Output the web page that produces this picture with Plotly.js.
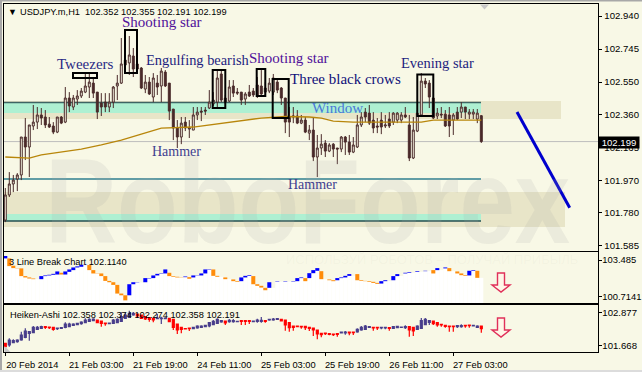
<!DOCTYPE html>
<html><head><meta charset="utf-8">
<script src="https://cdn.plot.ly/plotly-3.0.1.min.js"></script>
<style>html,body{margin:0;padding:0;background:#f8f8e6}#c{width:642px;height:372px}</style>
</head><body><div id="c"></div>
<script>
var WIDTH=642, HEIGHT=372;
var barIndex=[];for(var n=0;n<120;n++)barIndex.push(n);

var priceOpen=[101.736,101.884,101.949,101.978,102.002,102.226,102.167,102.291,102.314,102.356,102.344,102.302,102.291,102.255,102.344,102.314,102.456,102.403,102.450,102.468,
102.491,102.521,102.544,102.491,102.426,102.432,102.403,102.432,102.527,102.544,102.651,102.663,102.704,102.657,102.633,102.509,102.550,102.462,102.544,102.527,
102.609,102.544,102.391,102.279,102.226,102.314,102.273,102.267,102.356,102.379,102.385,102.397,102.421,102.432,102.598,102.456,102.438,102.527,102.491,102.491,
102.450,102.491,102.497,102.533,102.527,102.491,102.497,102.491,102.550,102.515,102.456,102.344,102.344,102.350,102.308,102.326,102.249,102.267,102.108,102.161,
102.190,102.143,102.184,102.161,102.155,102.226,102.196,102.137,102.167,102.297,102.373,102.367,102.326,102.291,102.326,102.291,102.332,102.314,102.326,102.326,
102.356,102.297,102.102,102.261,102.356,102.556,102.544,102.456,102.350,102.361,102.361,102.356,102.326,102.373,102.373,102.403,102.361,102.361,102.332,102.352];
var priceHigh=[101.925,102.019,102.002,102.013,102.226,102.338,102.297,102.415,102.403,102.397,102.385,102.344,102.314,102.344,102.350,102.521,102.491,102.474,102.503,102.515,
102.603,102.603,102.574,102.491,102.485,102.485,102.485,102.527,102.592,102.810,102.710,102.822,102.751,102.668,102.639,102.592,102.580,102.603,102.592,102.633,
102.621,102.544,102.391,102.326,102.344,102.344,102.326,102.403,102.403,102.403,102.403,102.503,102.491,102.621,102.621,102.474,102.562,102.562,102.515,102.491,
102.491,102.533,102.515,102.580,102.621,102.550,102.574,102.598,102.562,102.521,102.456,102.403,102.403,102.385,102.356,102.344,102.297,102.344,102.238,102.243,
102.208,102.190,102.190,102.161,102.232,102.232,102.238,102.226,102.356,102.373,102.397,102.415,102.373,102.338,102.373,102.356,102.373,102.373,102.373,102.373,
102.403,102.356,102.344,102.385,102.603,102.574,102.562,102.456,102.397,102.403,102.385,102.403,102.367,102.403,102.432,102.403,102.391,102.391,102.391,102.355];
var priceLow=[101.724,101.872,101.901,101.907,101.972,102.090,101.990,102.267,102.273,102.297,102.279,102.279,102.243,102.249,102.302,102.308,102.373,102.385,102.415,102.456,
102.485,102.456,102.456,102.332,102.350,102.373,102.373,102.397,102.444,102.539,102.621,102.592,102.580,102.609,102.509,102.485,102.474,102.432,102.474,102.432,
102.521,102.326,102.208,102.161,102.184,102.261,102.220,102.267,102.326,102.320,102.356,102.391,102.409,102.397,102.432,102.421,102.432,102.462,102.474,102.415,
102.415,102.462,102.462,102.456,102.462,102.474,102.485,102.474,102.485,102.415,102.249,102.226,102.308,102.302,102.302,102.249,102.208,102.084,101.990,102.120,
102.108,102.137,102.108,102.066,102.137,102.120,102.120,102.131,102.161,102.285,102.314,102.297,102.249,102.249,102.243,102.279,102.279,102.297,102.308,102.308,
102.338,102.084,102.096,102.255,102.344,102.515,102.397,102.332,102.332,102.338,102.285,102.226,102.238,102.326,102.338,102.332,102.332,102.332,102.308,102.191];
var priceClose=[101.884,101.949,101.972,102.002,102.226,102.167,102.297,102.314,102.356,102.338,102.297,102.285,102.255,102.344,102.308,102.456,102.409,102.456,102.468,102.497,
102.527,102.550,102.485,102.373,102.403,102.403,102.432,102.521,102.544,102.657,102.680,102.710,102.627,102.627,102.515,102.550,102.480,102.574,102.521,102.615,
102.527,102.379,102.279,102.226,102.308,102.279,102.279,102.356,102.373,102.373,102.379,102.432,102.444,102.574,102.444,102.432,102.521,102.485,102.485,102.444,
102.480,102.468,102.474,102.474,102.480,102.515,102.544,102.574,102.503,102.456,102.314,102.314,102.350,102.308,102.326,102.255,102.267,102.108,102.161,102.184,
102.143,102.179,102.155,102.155,102.226,102.196,102.137,102.179,102.297,102.344,102.344,102.308,102.279,102.285,102.285,102.297,102.291,102.367,102.367,102.356,
102.344,102.102,102.267,102.367,102.556,102.539,102.462,102.338,102.367,102.356,102.291,102.291,102.356,102.332,102.403,102.373,102.373,102.373,102.367,102.199];

var maBars=[0,6,9,14,19,24,29,34,39,47,57,64,70,76,79,82,87,104,107,119];
var maValues=[102.108,102.102,102.120,102.137,102.155,102.179,102.208,102.243,102.279,102.285,102.314,102.338,102.347,102.344,102.338,102.320,102.314,102.314,102.326,102.326];

// 3 Line Break blocks: upper edge, lower edge, direction (1 rising, -1 falling, 0 no block)
var lbUpper=[103.79,103.61,103.06,102.88,102.86,102.28,102.18,102.10,null,102.28,102.33,102.38,102.45,102.63,102.53,102.63,102.78,102.93,103.01,103.13,
103.13,103.11,102.73,102.50,102.48,102.28,101.92,101.82,101.62,100.97,100.84,101.67,101.82,101.82,null,102.13,102.13,102.33,102.45,102.48,
102.78,102.53,102.28,102.23,102.20,102.25,102.20,102.33,102.35,102.48,102.78,102.78,102.78,102.30,null,102.18,null,102.03,101.90,102.18,
102.30,102.35,102.28,101.67,101.55,101.40,101.82,null,101.90,null,101.90,null,101.90,102.13,102.18,102.13,102.50,102.73,102.88,102.65,
null,102.03,101.97,102.13,102.18,102.30,102.43,null,102.43,101.97,101.92,101.90,101.85,101.77,101.90,101.97,null,102.28,102.43,null,
102.53,102.58,null,102.65,null,102.68,null,102.73,102.88,null,102.93,102.88,null,102.63,102.48,102.35,102.68,102.73,102.68,null];
var lbLower=[103.61,103.03,102.88,102.86,102.28,102.18,102.10,102.05,null,102.05,102.28,102.33,102.38,102.40,102.40,102.40,102.60,102.73,102.93,102.98,
103.11,102.73,102.48,102.48,102.28,101.92,101.82,101.62,100.97,100.84,100.46,100.84,101.67,101.80,null,101.82,102.10,102.13,102.33,102.45,
102.48,102.28,102.23,102.18,102.18,102.20,102.08,102.18,102.33,102.33,102.48,102.75,102.30,102.23,null,102.05,null,101.90,101.85,101.90,
102.18,102.30,101.67,101.55,101.42,101.22,101.40,null,101.87,null,101.87,null,101.87,101.90,102.13,101.90,102.13,102.50,102.68,102.05,
null,101.97,101.90,101.97,102.13,102.18,102.30,null,101.97,101.92,101.90,101.85,101.77,101.70,101.72,101.90,null,101.97,102.28,null,
102.48,102.53,null,102.60,null,102.65,null,102.48,102.73,null,102.86,102.65,null,102.48,102.35,102.30,102.33,102.68,102.15,null];
var lbDir=[1,-1,-1,-1,-1,-1,-1,-1,0,1,1,1,1,1,-1,1,1,1,1,1,
1,-1,-1,-1,-1,-1,-1,-1,-1,-1,-1,1,1,1,0,1,1,1,1,1,
1,-1,-1,-1,-1,1,-1,1,1,1,1,1,-1,-1,0,-1,0,-1,-1,1,
1,1,-1,-1,-1,-1,1,0,1,0,1,0,1,1,1,-1,1,1,1,-1,
0,-1,-1,1,1,1,1,0,-1,-1,-1,-1,-1,-1,1,1,0,1,1,0,
1,1,0,1,0,1,0,-1,1,0,1,-1,0,-1,-1,-1,1,1,-1,0];

var haOpen=[101.754,101.693,101.779,101.815,101.876,101.974,102.121,102.145,102.267,102.304,102.365,102.353,102.341,102.292,102.304,102.341,102.365,102.414,102.438,102.475,
102.512,102.560,102.585,102.609,102.573,102.499,102.475,102.487,102.512,102.560,102.670,102.707,102.792,102.829,102.792,102.731,102.695,102.670,102.658,102.658,
102.658,102.670,102.634,102.463,102.341,102.292,102.316,102.292,102.316,102.341,102.365,102.389,102.438,102.487,102.536,102.573,102.548,102.548,102.548,102.585,
102.585,102.585,102.548,102.560,102.560,102.585,102.609,102.609,102.634,102.634,102.609,102.512,102.389,102.389,102.377,102.377,102.341,102.316,102.243,102.121,
102.133,102.108,102.096,102.108,102.133,102.133,102.170,102.170,102.170,102.243,102.267,102.341,102.341,102.341,102.316,102.316,102.328,102.304,102.328,102.341,
102.328,102.365,102.341,102.267,102.304,102.438,102.524,102.573,102.512,102.451,102.414,102.389,102.389,102.365,102.365,102.414,102.426,102.389,102.341,102.389];
var haHigh=[101.754,101.937,101.901,101.901,102.182,102.304,102.182,102.389,102.389,102.402,102.389,102.353,102.341,102.316,102.328,102.524,102.512,102.487,102.512,102.560,
102.670,102.670,102.670,102.609,102.573,102.499,102.512,102.646,102.670,102.890,102.854,102.951,102.902,102.829,102.792,102.731,102.695,102.670,102.829,102.731,
102.707,102.670,102.634,102.463,102.341,102.292,102.316,102.365,102.414,102.414,102.438,102.536,102.609,102.670,102.609,102.573,102.646,102.646,102.560,102.585,
102.585,102.585,102.585,102.658,102.719,102.585,102.658,102.683,102.670,102.634,102.609,102.512,102.389,102.389,102.377,102.377,102.341,102.316,102.243,102.121,
102.133,102.108,102.096,102.108,102.182,102.206,102.170,102.170,102.304,102.389,102.426,102.365,102.341,102.341,102.341,102.341,102.328,102.389,102.402,102.353,
102.414,102.365,102.341,102.414,102.683,102.683,102.609,102.573,102.512,102.451,102.414,102.389,102.389,102.414,102.451,102.414,102.426,102.414,102.414,102.389];
var haLow=[101.632,101.632,101.754,101.779,101.852,101.937,101.852,102.121,102.243,102.292,102.280,102.280,102.218,102.243,102.280,102.304,102.341,102.389,102.414,102.438,
102.487,102.536,102.560,102.512,102.365,102.402,102.475,102.463,102.487,102.536,102.646,102.683,102.768,102.695,102.646,102.609,102.548,102.524,102.634,102.463,
102.634,102.524,102.243,102.096,102.121,102.280,102.206,102.267,102.292,102.316,102.341,102.341,102.414,102.463,102.512,102.426,102.512,102.512,102.548,102.426,
102.426,102.463,102.536,102.512,102.512,102.512,102.585,102.585,102.621,102.573,102.218,102.182,102.218,102.353,102.292,102.243,102.206,102.023,101.901,101.974,
102.060,102.047,102.023,101.999,102.121,102.072,102.047,102.060,102.145,102.218,102.243,102.341,102.218,102.243,102.267,102.267,102.218,102.292,102.316,102.341,
102.280,101.999,102.023,102.243,102.292,102.414,102.426,102.426,102.365,102.365,102.328,102.182,102.182,102.316,102.328,102.328,102.328,102.389,102.316,102.145];
var haClose=[101.632,101.876,101.852,101.876,102.060,102.206,102.182,102.341,102.341,102.365,102.341,102.328,102.267,102.316,102.328,102.463,102.463,102.463,102.487,102.536,
102.609,102.634,102.646,102.512,102.487,102.475,102.499,102.609,102.634,102.731,102.792,102.854,102.854,102.756,102.670,102.646,102.634,102.609,102.683,102.683,
102.683,102.548,102.341,102.243,102.267,102.280,102.292,102.341,102.389,102.389,102.414,102.512,102.560,102.634,102.585,102.499,102.597,102.585,102.560,102.560,
102.560,102.560,102.573,102.609,102.597,102.560,102.634,102.646,102.658,102.573,102.426,102.328,102.341,102.365,102.353,102.328,102.304,102.243,102.096,102.072,
102.108,102.084,102.072,102.084,102.170,102.170,102.133,102.145,102.267,102.341,102.389,102.365,102.316,102.316,102.341,102.341,102.304,102.365,102.377,102.353,
102.365,102.243,102.206,102.389,102.585,102.634,102.585,102.475,102.426,102.426,102.377,102.365,102.365,102.402,102.402,102.389,102.402,102.414,102.389,102.292];

var priceTicks=[102.94,102.745,102.55,102.36,102.165,101.97,101.78,101.585];
var priceTickLabels=['102.940','102.745','102.550','102.360','102.165','101.970','101.780','101.585'];
var lbTicks=[103.485,100.7141], lbTickLabels=['103.485','100.7141'];
var haTicks=[102.877,101.668], haTickLabels=['102.877','101.668'];
var timeTickBars=[0,16,32,48,64,80,96,112];
var timeTickLabels=['20 Feb 2014','21 Feb 03:00','21 Feb 19:00','24 Feb 11:00','25 Feb 03:00','25 Feb 19:00','26 Feb 11:00','27 Feb 03:00'];
var lastPrice=102.199;

var patternLabels=['Shooting star','Tweezers','Engulfing bearish','Shooting star','Three black crows','Evening star','Window','Hammer','Hammer'];

var CREAM='#f8f8e6', INK='#000000', FONT='"Liberation Sans", Arial, sans-serif', SERIF='"Liberation Serif", "Times New Roman", serif';
var FS=9.6;
function px(x){return x/WIDTH;} function py(y){return 1-y/HEIGHT;}
function bx(x){return (x-5.3)/4;} function pr(y){return 103.0344-0.0059*y;}

var xRange=[bx(4),bx(598)];
var lbFloor=100.26, lbTopEdge=104.09;

var whiteH=[],last=lbLower[0];
for(var i=0;i<120;i++){ if(lbLower[i]!==null) last=lbLower[i]; whiteH.push(last-lbFloor); }
var lbH=[],lbBase=[],lbCol=[];
for(var j=0;j<120;j++){ 
  lbH.push(lbUpper[j]===null?0:lbUpper[j]-lbLower[j]); lbBase.push(lbLower[j]===null?lbFloor:lbLower[j]);
  lbCol.push(lbDir[j]>0?'#0000ff':'#ff8c0a');
}

var traces=[
 {type:'candlestick',x:barIndex,open:priceOpen,high:priceHigh,low:priceLow,close:priceClose,xaxis:'x',yaxis:'y',
  increasing:{line:{color:'#4a2a2a',width:1},fillcolor:CREAM},decreasing:{line:{color:'#4a2a2a',width:1},fillcolor:'#4a2a2a'},whiskerwidth:0,hoverinfo:'skip',showlegend:false},
 {type:'scatter',mode:'lines',x:maBars,y:maValues,xaxis:'x',yaxis:'y',line:{color:'#b8860b',width:1.3},hoverinfo:'skip',showlegend:false},
 {type:'bar',x:barIndex,y:whiteH,base:lbFloor,width:1,xaxis:'x2',yaxis:'y2',marker:{color:'#ffffff',line:{width:0}},hoverinfo:'skip',showlegend:false},
 {type:'bar',x:barIndex,y:lbH,base:lbBase,width:1,xaxis:'x2',yaxis:'y2',marker:{color:lbCol,line:{width:0}},hoverinfo:'skip',showlegend:false},
 {type:'candlestick',x:barIndex,open:haOpen,high:haHigh,low:haLow,close:haClose,xaxis:'x3',yaxis:'y3',
  increasing:{line:{color:'#483d8b',width:1.2},fillcolor:'#483d8b'},decreasing:{line:{color:'#ff0000',width:1.2},fillcolor:'#ff0000'},whiskerwidth:0,hoverinfo:'skip',showlegend:false}
];

function zone(x0,x1,y0,y1,c){return {type:'rect',xref:'x',yref:'y',x0:x0,x1:x1,y0:y0,y1:y1,fillcolor:c,line:{width:0},layer:'below'};}
function hline(x0,x1,y,c,w){return {type:'line',xref:'x',yref:'y',x0:x0,x1:x1,y0:y,y1:y,line:{color:c,width:w},layer:'below'};}
function box(xa,xb,ya,yb){return {type:'rect',xref:'x',yref:'y',x0:bx(xa),x1:bx(xb),y0:pr(ya),y1:pr(yb),fillcolor:'rgba(0,0,0,0)',line:{color:'#000',width:2},layer:'above'};}
function arrow(top){
  var t=top,b=top+19,h=top+12;
  var d='M'+px(497.5)+','+py(t)+' L'+px(504.5)+','+py(t)+' L'+px(504.5)+','+py(h)+' L'+px(510)+','+py(h)+' L'+px(501)+','+py(b)+' L'+px(492)+','+py(h)+' L'+px(497.5)+','+py(h)+' Z';
  return {type:'path',xref:'paper',yref:'paper',path:d,fillcolor:'#fff6e8',line:{color:'#e0305a',width:1.4},layer:'above'};
}
function tri(xa,ya,xb,yb,xc,yc,c){return {type:'path',xref:'paper',yref:'paper',path:'M'+px(xa)+','+py(ya)+' L'+px(xb)+','+py(yb)+' L'+px(xc)+','+py(yc)+' Z',fillcolor:c,line:{width:0},layer:'above'};}

var shapes=[
 zone(xRange[0],bx(561),pr(101),pr(119),'#e8e5c8'),
 zone(xRange[0],bx(565),pr(192),pr(227),'#e8e5c8'),
 zone(xRange[0],bx(481),pr(102.5),pr(113),'#aef0d2'),
 zone(bx(6),bx(481),pr(214),pr(221),'#aef0d2'),
 hline(xRange[0],bx(481),pr(102.5),'#3e6464',1.3),
 hline(xRange[0],bx(481),pr(179),'#2f7f8f',1.3),
 hline(xRange[0],bx(481),pr(221),'#244f50',1.3),
 hline(xRange[0],xRange[1],lastPrice,'#bdbdbd',1),
 box(73,97,73,78), box(125,137,30,73), box(212.7,225.3,70,108), box(256.7,265.3,69,96), box(272.7,288.7,79,118), box(417.3,433.3,74.5,116),
 {type:'line',xref:'x',yref:'y',x0:bx(517),y0:pr(112),x1:bx(569.7),y1:pr(207.7),line:{color:'#0000cd',width:3},layer:'above'},
 arrow(273),arrow(318),
 tri(480,4.5,489,4.5,484.5,9.5,'#c8c8c8'),
 tri(4.5,346,4.5,352,10.5,352,'#c8c8c8'),
 {type:'rect',xref:'paper',yref:'paper',x0:0,x1:px(2),y0:0,y1:1,fillcolor:'#a8a8a8',line:{width:0},layer:'above'},
 {type:'rect',xref:'paper',yref:'paper',x0:0,x1:1,y0:py(1.5),y1:1,fillcolor:'#a8a8a8',line:{width:0},layer:'above'},
 {type:'rect',xref:'paper',yref:'paper',x0:0,x1:1,y0:0,y1:py(370),fillcolor:'#dcdcdc',line:{width:0},layer:'above'}
];

function note(text,cx,cy,color,size){return {text:text,xref:'paper',yref:'paper',x:px(cx),y:py(cy),xanchor:'center',yanchor:'middle',showarrow:false,font:{family:SERIF,size:size||15,color:color}};}
function label(text,x,y,size){return {text:text,xref:'paper',yref:'paper',x:px(x),y:py(y),xanchor:'left',yanchor:'middle',showarrow:false,font:{family:FONT,size:size||9.25,color:INK}};}

var annotations=[
 {text:'RoboForex',xref:'paper',yref:'paper',x:px(307.5),y:py(201),xanchor:'center',yanchor:'middle',showarrow:false,
  font:{family:'"Liberation Sans",sans-serif',size:120,color:'rgba(165,170,165,0.16)',weight:700}},
 {text:'ИСПОЛЬЗУЙ РОБОТОВ – ПОЛУЧАЙ ПРИБЫЛЬ',xref:'paper',yref:'paper',x:px(432),y:py(259),xanchor:'center',yanchor:'middle',showarrow:false,font:{family:FONT,size:13,color:'rgba(170,170,150,0.07)'}},
 note(patternLabels[0],161.7,22,'#50109a'),
 note(patternLabels[1],85.3,64,'#2a2a85'),
 note(patternLabels[2],197.5,60,'#1d1d80',14.4),
 note(patternLabels[3],289,58,'#50109a'),
 note(patternLabels[4],345.7,79,'#10107a'),
 note(patternLabels[5],437,63,'#1d1d80',14.5),
 note(patternLabels[6],337,108,'#4a78d8'),
 note(patternLabels[7],176.7,151,'#40408f',14),
 note(patternLabels[8],312.7,184.5,'#40408f',14),
 label('▼',6,12,9),
 label('USDJPY.m,H1&nbsp;&nbsp;102.352 102.355 102.191 102.199',18,12),
 label('3 Line Break Chart 102.1140',7,262),
 label('Heiken-Ashi 102.358 102.374 102.274 102.358 102.191',7.5,314.5),
 {text:lastPrice.toFixed(3),xref:'paper',yref:'paper',x:px(619),y:py(142),xanchor:'center',yanchor:'middle',showarrow:false,bgcolor:'#000',borderpad:1,width:38,height:9,font:{family:FONT,size:FS,color:'#fff'}}
];

function yAxis(domTop,domBot,range,vals,txt,shift,size){
 return {domain:[py(domBot),py(domTop)],range:range,side:'right',tickmode:'array',tickvals:vals,ticktext:txt,ticks:'outside',ticklen:3,tickwidth:1,tickcolor:'#000',
  showgrid:false,zeroline:false,showline:true,linecolor:'#000',linewidth:1.4,mirror:true,fixedrange:true,ticklabelstandoff:shift,tickfont:{family:FONT,size:size,color:INK}};
}
function xAxis(dy,show){
 return {domain:[px(4),px(598)],range:xRange,anchor:dy,showgrid:false,zeroline:false,showline:true,linecolor:'#000',linewidth:1.4,mirror:true,fixedrange:true,
  rangeslider:{visible:false},tickmode:'array',tickvals:show?timeTickBars:[],ticktext:show?timeTickLabels:[],ticks:show?'outside':'',ticklen:3,tickwidth:1,tickcolor:'#000',showticklabels:!!show,
  ticklabelshift:27,ticklabelstandoff:0,tickangle:0,tickfont:{family:FONT,size:9.3,color:INK}};
}
var layout={width:WIDTH,height:HEIGHT,margin:{l:0,r:0,t:0,b:0,pad:0},paper_bgcolor:CREAM,plot_bgcolor:CREAM,showlegend:false,barmode:'overlay',
 xaxis:xAxis('y',false),xaxis2:xAxis('y2',false),xaxis3:xAxis('y3',true),
 yaxis:yAxis(4,251,[pr(251),pr(4)],priceTicks,priceTickLabels,0,9.6),
 yaxis2:yAxis(252,303,[lbFloor,lbTopEdge],lbTicks,lbTickLabels,-2,9.4),
 yaxis3:yAxis(305,352,[101.437,103.159],haTicks,haTickLabels,-2,9.6),
 shapes:shapes,annotations:annotations};
Plotly.newPlot('c',traces,layout,{staticPlot:true,displayModeBar:false}).then(function(){
  // the watermark is condensed to the width it has in the reference
  document.querySelectorAll('.annotation-text').forEach(function(t){
    if(t.textContent==='RoboForex'){t.setAttribute('textLength','525');t.setAttribute('lengthAdjust','spacingAndGlyphs');}
  });
});
</script></body></html>
